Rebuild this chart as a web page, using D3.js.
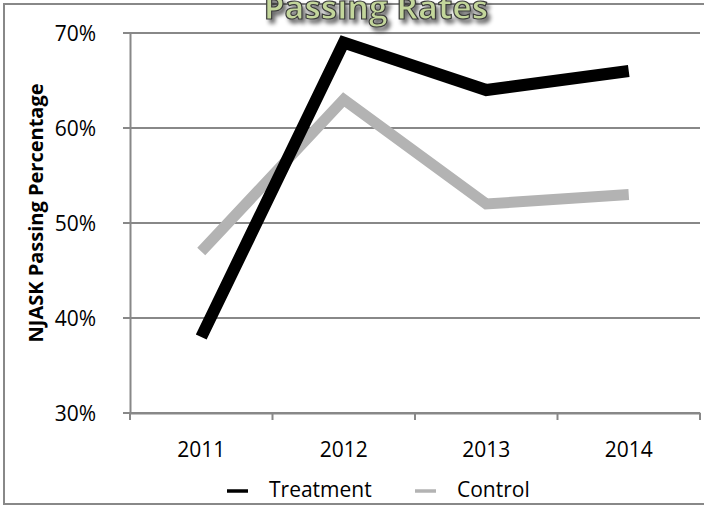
<!DOCTYPE html>
<html>
<head>
<meta charset="utf-8">
<script src="https://cdn.jsdelivr.net/npm/d3@7"></script>
<style>
  body { margin: 0; background: #fff; }
  svg { display: block; font-family: 'Open Sans', sans-serif; }
</style>
</head>
<body>
<svg></svg>
<script>
let years = ['2011', '2012', '2013', '2014']
let treatment = [38, 69, 64, 66]
let control = [47, 63, 52, 53]
let yTicks = [30, 40, 50, 60, 70]
let seriesNames = ['Treatment', 'Control']
let seriesColors = ['#000000', '#b3b3b3']

let width = 704
let height = 506
let margin = { left: 130, right: 4, top: 33, bottom: 93 }

let svg = d3.select('svg').attr('width', width).attr('height', height)

let defs = svg.append('defs')
let shadow = defs.append('filter').attr('id', 'shadow')
  .attr('x', '-10%').attr('y', '-50%').attr('width', '120%').attr('height', '200%')
shadow.append('feGaussianBlur').attr('in', 'SourceAlpha').attr('stdDeviation', 2)
shadow.append('feOffset').attr('dx', 3).attr('dy', 4).attr('result', 'blur')
shadow.append('feComponentTransfer').append('feFuncA').attr('type', 'linear').attr('slope', 0.6)
let merge = shadow.append('feMerge')
merge.append('feMergeNode')
merge.append('feMergeNode').attr('in', 'SourceGraphic')

// chart frame (right edge runs off the picture)
svg.append('rect')
  .attr('x', 4).attr('y', 4).attr('width', 720).attr('height', 500)
  .attr('fill', 'none').attr('stroke', '#888').attr('stroke-width', 2)

let xScale = d3.scaleBand()
  .domain(years)
  .range([margin.left, width - margin.right])

let yScale = d3.scaleLinear()
  .domain([30, 70])
  .range([height - margin.bottom, margin.top])

// gridlines
svg.append('g')
  .selectAll('line')
  .data(yTicks)
  .enter()
  .append('line')
  .attr('x1', margin.left - 7)
  .attr('x2', width - margin.right)
  .attr('y1', d => yScale(d))
  .attr('y2', d => yScale(d))
  .attr('stroke', '#888')
  .attr('stroke-width', 2)

let yAxis = d3.axisLeft(yScale)
  .tickValues(yTicks)
  .tickFormat(d => d + '%')
  .tickSize(0)
  .tickPadding(34)

let yG = svg.append('g')
  .attr('transform', 'translate(' + margin.left + ',0)')
  .call(yAxis)
  .attr('font-family', null)
  .attr('font-size', 21)
yG.select('.domain').attr('stroke', '#888').attr('stroke-width', 2)
yG.selectAll('text').attr('fill', '#000').attr('dy', '0.36em')

// x axis with ticks between categories
let xAxis = d3.axisBottom(xScale).tickSize(0).tickPadding(29)
let xG = svg.append('g')
  .attr('transform', 'translate(0,' + (height - margin.bottom) + ')')
  .call(xAxis)
  .attr('font-family', null)
  .attr('font-size', 21)
xG.select('.domain').attr('stroke', '#888').attr('stroke-width', 2)
xG.selectAll('text').attr('fill', '#000')

let bounds = years.map(d => xScale(d)).concat([xScale(years[3]) + xScale.bandwidth()])
xG.selectAll('.sep')
  .data(bounds)
  .enter()
  .append('line')
  .attr('x1', d => d).attr('x2', d => d)
  .attr('y1', 0).attr('y2', 7)
  .attr('stroke', '#888').attr('stroke-width', 2)

let line = d3.line()
  .x((d, i) => xScale(years[i]) + xScale.bandwidth() / 2)
  .y(d => yScale(d))

svg.append('path')
  .datum(control)
  .attr('d', line)
  .attr('fill', 'none')
  .attr('stroke', seriesColors[1])
  .attr('stroke-width', 11)
  .attr('stroke-linejoin', 'miter')

svg.append('path')
  .datum(treatment)
  .attr('d', line)
  .attr('fill', 'none')
  .attr('stroke', seriesColors[0])
  .attr('stroke-width', 12)
  .attr('stroke-linejoin', 'miter')

// y axis title
svg.append('text')
  .attr('transform', 'translate(43,213) rotate(-90)')
  .attr('text-anchor', 'middle')
  .attr('font-size', 20)
  .attr('font-weight', 'bold')
  .text('NJASK Passing Percentage')

// chart title, cut off at the top like the original
svg.append('text')
  .attr('x', 376)
  .attr('y', 19)
  .attr('text-anchor', 'middle')
  .attr('font-size', 33)
  .attr('font-weight', 'bold')
  .attr('fill', '#c3d69b')
  .attr('stroke', '#3a3a3a')
  .attr('stroke-width', 1.2)
  .attr('filter', 'url(#shadow)')
  .text('Passing Rates')

// legend
let legendX = [227, 415]
let legendG = svg.append('g')
seriesNames.forEach((name, i) => {
  legendG.append('line')
    .attr('x1', legendX[i]).attr('x2', legendX[i] + 21)
    .attr('y1', 491).attr('y2', 491)
    .attr('stroke', seriesColors[i]).attr('stroke-width', 3.5)
  legendG.append('text')
    .attr('x', legendX[i] + 42)
    .attr('y', 497)
    .attr('font-size', 21)
    .text(name)
})
</script>
</body>
</html>
